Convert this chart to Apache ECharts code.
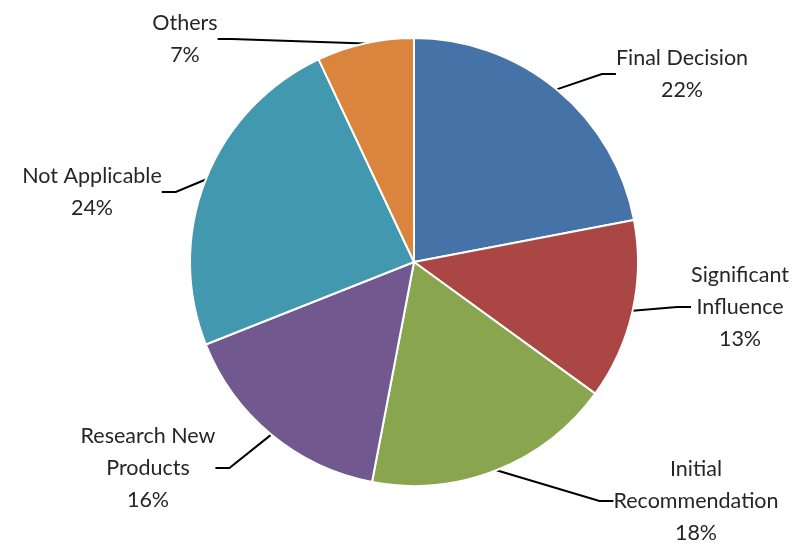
<!DOCTYPE html>
<html><head><meta charset="utf-8">
<script src="https://cdn.jsdelivr.net/npm/echarts@6/dist/echarts.min.js"></script>
<style>html,body{margin:0;padding:0;background:#fff}#c{width:808px;height:547px}</style>
</head><body><div id="c"></div>
<script>
const categories = ['Final Decision', 'Significant\nInfluence', 'Initial\nRecommendation', 'Research New\nProducts', 'Not Applicable', 'Others'];
const values = [22, 13, 18, 16, 24, 7];
const colors = ['#4572A7', '#AA4643', '#89A54E', '#71588F', '#4198AF', '#DB843D'];
const labelPos = [[682, 74], [740, 307], [696, 501], [148, 468], [92, 192], [185, 39]];

const chart = echarts.init(document.getElementById('c'));
chart.setOption({
  animation: false,
  series: [{
    type: 'pie',
    center: [414, 262],
    radius: 224,
    startAngle: 90,
    clockwise: true,
    data: categories.map((n, i) => ({ name: n, value: values[i], itemStyle: { color: colors[i] } })),
    itemStyle: { borderColor: '#fff', borderWidth: 2 },
    label: {
      show: true,
      formatter: p => p.name + '\n' + p.value + '%',
      fontFamily: 'Lato',
      fontSize: 21.5,
      lineHeight: 32,
      color: '#262626',
      align: 'center'
    },
    labelLine: { show: true, length: 20, length2: 14, lineStyle: { color: '#000', width: 2 } },
    labelLayout: function (p) {
      const pos = labelPos[p.dataIndex];
      return { x: pos[0], y: pos[1], align: 'center', verticalAlign: 'middle' };
    }
  }]
});
</script></body></html>
